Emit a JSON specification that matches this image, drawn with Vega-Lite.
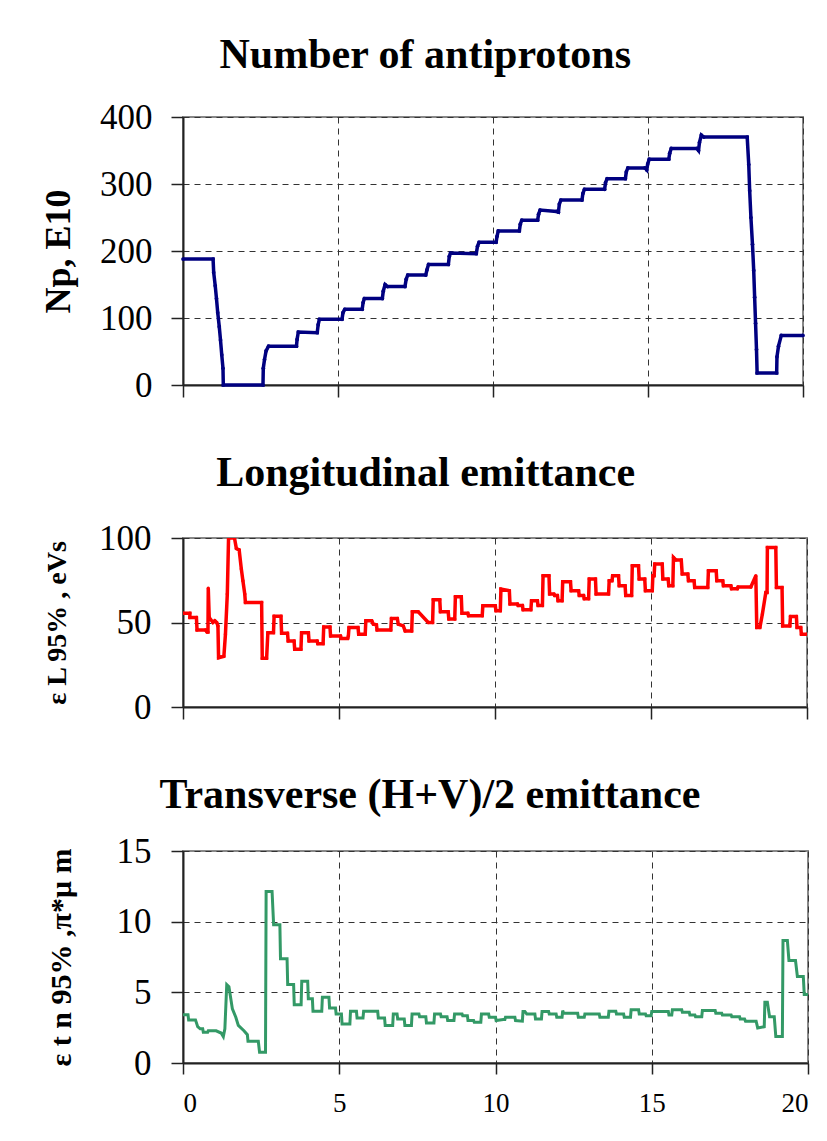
{
  "$schema": "https://vega.github.io/schema/vega-lite/v6.json",
  "padding": {"left": 39, "top": 33, "right": 5, "bottom": 5},
  "background": "white",
  "spacing": 47,
  "config": {
    "view": {"stroke": "#888888", "strokeWidth": 2},
    "axis": {
      "domainColor": "#222222", "domainWidth": 2,
      "tickColor": "#222222", "tickSize": 12, "tickWidth": 1.5,
      "gridColor": "#333333", "gridDash": [6, 5], "gridWidth": 1,
      "labelFont": "Liberation Serif", "labelFontSize": 35, "labelColor": "#000000",
      "titleFont": "Liberation Serif", "titleFontWeight": "bold", "titleColor": "#000000"
    },
    "title": {"font": "Liberation Serif", "fontWeight": "bold", "fontSize": 42, "color": "#000000", "frame": "bounds", "anchor": "middle", "baseline": "alphabetic"}
  },
  "datasets": {
    "np": [
      {"t":0,"v":188},{"t":0.97,"v":188},{"t":0.99,"v":168},{"t":1.04,"v":148},{"t":1.08,"v":129},{"t":1.12,"v":108},{"t":1.17,"v":87},{"t":1.21,"v":67},{"t":1.25,"v":45},{"t":1.29,"v":25},{"t":1.30,"v":0},{"t":2.58,"v":0},{"t":2.59,"v":25},{"t":2.63,"v":38},{"t":2.68,"v":51},{"t":2.76,"v":58},{"t":3.66,"v":58},{"t":3.68,"v":68},{"t":3.72,"v":79},{"t":4.33,"v":78},{"t":4.36,"v":90},{"t":4.40,"v":98},{"t":5.13,"v":98},{"t":5.16,"v":108},{"t":5.22,"v":113},{"t":5.78,"v":113},{"t":5.81,"v":123},{"t":5.85,"v":129},{"t":6.43,"v":129},{"t":6.46,"v":140},{"t":6.52,"v":150},{"t":6.6,"v":147},{"t":7.16,"v":147},{"t":7.2,"v":158},{"t":7.25,"v":164},{"t":7.83,"v":164},{"t":7.87,"v":172},{"t":7.92,"v":180},{"t":8.56,"v":180},{"t":8.59,"v":192},{"t":8.63,"v":197},{"t":9.46,"v":196},{"t":9.5,"v":207},{"t":9.55,"v":213},{"t":10.1,"v":213},{"t":10.13,"v":222},{"t":10.17,"v":230},{"t":10.85,"v":230},{"t":10.88,"v":240},{"t":10.93,"v":246},{"t":11.44,"v":246},{"t":11.47,"v":255},{"t":11.52,"v":261},{"t":12.05,"v":259},{"t":12.11,"v":258},{"t":12.14,"v":270},{"t":12.19,"v":276},{"t":12.87,"v":276},{"t":12.9,"v":286},{"t":12.95,"v":292},{"t":13.6,"v":292},{"t":13.63,"v":302},{"t":13.68,"v":308},{"t":14.27,"v":308},{"t":14.3,"v":318},{"t":14.35,"v":324},{"t":14.9,"v":324},{"t":14.96,"v":321},{"t":14.99,"v":330},{"t":15.04,"v":337},{"t":15.67,"v":337},{"t":15.7,"v":346},{"t":15.75,"v":353},{"t":16.58,"v":353},{"t":16.63,"v":350},{"t":16.66,"v":362},{"t":16.72,"v":373},{"t":16.8,"v":370},{"t":18.2,"v":370},{"t":18.25,"v":329},{"t":18.28,"v":290},{"t":18.32,"v":250},{"t":18.37,"v":210},{"t":18.41,"v":171},{"t":18.44,"v":131},{"t":18.47,"v":92},{"t":18.5,"v":53},{"t":18.52,"v":18},{"t":19.15,"v":18},{"t":19.16,"v":42},{"t":19.21,"v":58},{"t":19.3,"v":74},{"t":20,"v":74}
    ],
    "el": [
      {"t":0,"v":55.5},{"t":0.22,"v":55.5},{"t":0.22,"v":53},{"t":0.43,"v":53},{"t":0.45,"v":45.6},{"t":0.72,"v":45.6},{"t":0.77,"v":44.4},{"t":0.8,"v":44.4},{"t":0.81,"v":70.3},{"t":0.84,"v":53},{"t":0.96,"v":50},{"t":1.02,"v":51},{"t":1.08,"v":50},{"t":1.12,"v":48},{"t":1.14,"v":29.2},{"t":1.31,"v":30},{"t":1.36,"v":43},{"t":1.42,"v":66.8},{"t":1.46,"v":100},{"t":1.65,"v":100},{"t":1.71,"v":93.8},{"t":1.8,"v":93},{"t":1.87,"v":81.6},{"t":1.92,"v":74.7},{"t":1.98,"v":66.8},{"t":2.0,"v":61.8},{"t":2.52,"v":61.8},{"t":2.54,"v":28.9},{"t":2.68,"v":28.9},{"t":2.72,"v":44},{"t":2.9,"v":44},{"t":2.92,"v":53.7},{"t":3.14,"v":53.7},{"t":3.16,"v":43.7},{"t":3.35,"v":43.7},{"t":3.37,"v":39.1},{"t":3.56,"v":39.1},{"t":3.58,"v":34.2},{"t":3.78,"v":34.2},{"t":3.8,"v":44},{"t":4.02,"v":44},{"t":4.04,"v":39},{"t":4.3,"v":39},{"t":4.32,"v":37.5},{"t":4.49,"v":37.5},{"t":4.51,"v":47.4},{"t":4.71,"v":47.4},{"t":4.73,"v":42},{"t":5.05,"v":42},{"t":5.07,"v":40.6},{"t":5.28,"v":40.6},{"t":5.3,"v":42},{"t":5.32,"v":47},{"t":5.61,"v":47},{"t":5.63,"v":43},{"t":5.84,"v":43},{"t":5.86,"v":51},{"t":6.05,"v":51},{"t":6.1,"v":49},{"t":6.2,"v":48.7},{"t":6.22,"v":45.6},{"t":6.66,"v":45.6},{"t":6.68,"v":52.4},{"t":6.87,"v":52.4},{"t":6.9,"v":49},{"t":7.06,"v":48},{"t":7.12,"v":45},{"t":7.33,"v":45},{"t":7.35,"v":56.3},{"t":7.54,"v":56.3},{"t":7.86,"v":50},{"t":8.0,"v":50},{"t":8.02,"v":63.4},{"t":8.23,"v":63.4},{"t":8.25,"v":56.3},{"t":8.5,"v":56.3},{"t":8.52,"v":52},{"t":8.71,"v":52},{"t":8.73,"v":65.2},{"t":8.92,"v":65.2},{"t":8.94,"v":55.5},{"t":9.13,"v":55.5},{"t":9.15,"v":54},{"t":9.59,"v":54},{"t":9.61,"v":59.9},{"t":10.01,"v":59.9},{"t":10.03,"v":57},{"t":10.17,"v":57},{"t":10.19,"v":69.8},{"t":10.46,"v":68.8},{"t":10.48,"v":60.9},{"t":10.72,"v":60.9},{"t":10.74,"v":60},{"t":10.88,"v":60},{"t":10.9,"v":57.5},{"t":11.15,"v":57.5},{"t":11.17,"v":62.9},{"t":11.36,"v":62.9},{"t":11.38,"v":60},{"t":11.52,"v":60},{"t":11.54,"v":77.7},{"t":11.73,"v":77.7},{"t":11.75,"v":66.8},{"t":11.89,"v":66.8},{"t":11.91,"v":66},{"t":12.0,"v":66},{"t":12.02,"v":62.9},{"t":12.15,"v":62.9},{"t":12.17,"v":74.1},{"t":12.42,"v":74.1},{"t":12.44,"v":68.8},{"t":12.68,"v":68.8},{"t":12.7,"v":66},{"t":12.84,"v":66},{"t":12.86,"v":64},{"t":13.0,"v":64},{"t":13.02,"v":75.7},{"t":13.22,"v":75.7},{"t":13.24,"v":66.8},{"t":13.64,"v":66.8},{"t":13.66,"v":74.7},{"t":13.75,"v":74.7},{"t":13.77,"v":77.7},{"t":13.96,"v":77.7},{"t":13.98,"v":71.7},{"t":14.17,"v":71.7},{"t":14.19,"v":66},{"t":14.38,"v":66},{"t":14.4,"v":83.6},{"t":14.6,"v":83.6},{"t":14.62,"v":75.7},{"t":14.8,"v":75.7},{"t":14.82,"v":68.8},{"t":15.04,"v":68.8},{"t":15.06,"v":77.7},{"t":15.1,"v":77.7},{"t":15.12,"v":84.6},{"t":15.36,"v":84.6},{"t":15.38,"v":75.7},{"t":15.55,"v":75.7},{"t":15.57,"v":71.7},{"t":15.7,"v":71.7},{"t":15.72,"v":88.5},{"t":15.8,"v":87},{"t":15.97,"v":87},{"t":16.0,"v":78.7},{"t":16.18,"v":78.7},{"t":16.2,"v":74.7},{"t":16.38,"v":74.7},{"t":16.4,"v":70.7},{"t":16.82,"v":70.7},{"t":16.84,"v":80.6},{"t":17.09,"v":80.6},{"t":17.11,"v":74.7},{"t":17.3,"v":74.7},{"t":17.32,"v":71.7},{"t":17.56,"v":71.7},{"t":17.58,"v":70},{"t":17.77,"v":70},{"t":17.79,"v":71},{"t":18.2,"v":71},{"t":18.36,"v":77.7},{"t":18.39,"v":47},{"t":18.49,"v":47},{"t":18.57,"v":55},{"t":18.68,"v":67.8},{"t":18.72,"v":67.8},{"t":18.73,"v":94.4},{"t":19.0,"v":94.4},{"t":19.02,"v":70.7},{"t":19.2,"v":70.7},{"t":19.22,"v":48},{"t":19.45,"v":48},{"t":19.47,"v":53.5},{"t":19.66,"v":53.5},{"t":19.68,"v":47},{"t":19.8,"v":47},{"t":19.82,"v":43.1},{"t":20,"v":43.1}
    ],
    "et": [
      {"t":0,"v":3.42},{"t":0.16,"v":3.42},{"t":0.18,"v":3.05},{"t":0.4,"v":3.05},{"t":0.47,"v":2.57},{"t":0.55,"v":2.42},{"t":0.63,"v":2.42},{"t":0.65,"v":2.17},{"t":0.79,"v":2.17},{"t":0.81,"v":2.28},{"t":1.06,"v":2.28},{"t":1.22,"v":2.12},{"t":1.29,"v":1.86},{"t":1.34,"v":2.42},{"t":1.4,"v":5.55},{"t":1.47,"v":5.4},{"t":1.58,"v":3.83},{"t":1.69,"v":3.24},{"t":1.77,"v":2.66},{"t":1.95,"v":2.28},{"t":2.06,"v":2.0},{"t":2.08,"v":1.54},{"t":2.41,"v":1.54},{"t":2.45,"v":0.76},{"t":2.64,"v":0.76},{"t":2.66,"v":12.14},{"t":2.85,"v":12.14},{"t":2.9,"v":9.78},{"t":3.1,"v":9.78},{"t":3.12,"v":7.37},{"t":3.33,"v":7.37},{"t":3.35,"v":5.55},{"t":3.54,"v":5.55},{"t":3.56,"v":4.13},{"t":3.78,"v":4.13},{"t":3.8,"v":5.79},{"t":3.99,"v":5.79},{"t":4.01,"v":4.54},{"t":4.14,"v":4.54},{"t":4.16,"v":3.66},{"t":4.44,"v":3.66},{"t":4.46,"v":4.65},{"t":4.67,"v":4.65},{"t":4.69,"v":3.9},{"t":4.88,"v":3.9},{"t":4.9,"v":3.47},{"t":5.07,"v":3.47},{"t":5.09,"v":2.76},{"t":5.34,"v":2.76},{"t":5.36,"v":3.66},{"t":5.55,"v":3.66},{"t":5.57,"v":3.19},{"t":5.76,"v":3.19},{"t":5.78,"v":3.66},{"t":6.23,"v":3.66},{"t":6.25,"v":3.19},{"t":6.45,"v":3.19},{"t":6.47,"v":2.66},{"t":6.71,"v":2.66},{"t":6.73,"v":3.47},{"t":6.85,"v":3.47},{"t":6.87,"v":3.12},{"t":7.08,"v":3.12},{"t":7.1,"v":2.66},{"t":7.31,"v":2.66},{"t":7.33,"v":3.47},{"t":7.55,"v":3.47},{"t":7.57,"v":3.28},{"t":7.77,"v":3.28},{"t":7.79,"v":2.83},{"t":8.03,"v":2.83},{"t":8.05,"v":3.47},{"t":8.24,"v":3.47},{"t":8.26,"v":3.28},{"t":8.45,"v":3.28},{"t":8.47,"v":3.0},{"t":8.67,"v":3.0},{"t":8.69,"v":3.47},{"t":8.93,"v":3.47},{"t":8.95,"v":3.35},{"t":9.1,"v":3.35},{"t":9.12,"v":3.0},{"t":9.3,"v":3.0},{"t":9.32,"v":2.88},{"t":9.53,"v":2.88},{"t":9.55,"v":3.47},{"t":9.78,"v":3.47},{"t":9.8,"v":3.24},{"t":10.0,"v":3.24},{"t":10.02,"v":3.0},{"t":10.25,"v":3.07},{"t":10.3,"v":3.07},{"t":10.32,"v":3.24},{"t":10.62,"v":3.24},{"t":10.64,"v":3.0},{"t":10.86,"v":2.96},{"t":10.88,"v":3.64},{"t":10.94,"v":3.64},{"t":11.0,"v":3.47},{"t":11.26,"v":3.47},{"t":11.28,"v":3.12},{"t":11.47,"v":3.12},{"t":11.49,"v":3.64},{"t":11.7,"v":3.64},{"t":11.72,"v":3.47},{"t":11.94,"v":3.47},{"t":11.96,"v":3.24},{"t":12.13,"v":3.24},{"t":12.15,"v":3.71},{"t":12.18,"v":3.52},{"t":12.63,"v":3.52},{"t":12.65,"v":3.24},{"t":12.84,"v":3.24},{"t":12.86,"v":3.47},{"t":13.32,"v":3.47},{"t":13.34,"v":3.24},{"t":13.61,"v":3.24},{"t":13.63,"v":3.66},{"t":13.85,"v":3.66},{"t":13.87,"v":3.47},{"t":14.1,"v":3.47},{"t":14.12,"v":3.24},{"t":14.32,"v":3.24},{"t":14.34,"v":3.76},{"t":14.58,"v":3.76},{"t":14.6,"v":3.47},{"t":14.8,"v":3.47},{"t":14.82,"v":3.35},{"t":14.98,"v":3.35},{"t":15.0,"v":3.64},{"t":15.53,"v":3.64},{"t":15.55,"v":3.4},{"t":15.64,"v":3.4},{"t":15.66,"v":3.76},{"t":15.96,"v":3.76},{"t":15.98,"v":3.59},{"t":16.2,"v":3.59},{"t":16.22,"v":3.4},{"t":16.38,"v":3.4},{"t":16.4,"v":3.28},{"t":16.6,"v":3.28},{"t":16.62,"v":3.71},{"t":17.03,"v":3.71},{"t":17.05,"v":3.52},{"t":17.24,"v":3.52},{"t":17.26,"v":3.4},{"t":17.54,"v":3.4},{"t":17.56,"v":3.28},{"t":17.81,"v":3.28},{"t":17.83,"v":3.12},{"t":17.97,"v":3.12},{"t":18.0,"v":2.96},{"t":18.34,"v":2.96},{"t":18.39,"v":2.48},{"t":18.6,"v":2.57},{"t":18.62,"v":4.3},{"t":18.7,"v":4.3},{"t":18.77,"v":3.28},{"t":18.92,"v":3.28},{"t":18.97,"v":1.87},{"t":19.18,"v":1.87},{"t":19.2,"v":8.67},{"t":19.34,"v":8.67},{"t":19.39,"v":7.25},{"t":19.6,"v":7.25},{"t":19.66,"v":6.12},{"t":19.85,"v":6.12},{"t":19.88,"v":4.84},{"t":20,"v":4.84}
    ]
  },
  "vconcat": [
    {
      "title": {"text": "Number of antiprotons", "offset": 23},
      "width": 620, "height": 268,
      "data": {"name": "np"},
      "mark": {"type": "line", "color": "#000080", "strokeWidth": 3.5, "point": {"filled": true, "size": 14, "color": "#000080"}},
      "encoding": {
        "x": {"field": "t", "type": "quantitative", "scale": {"domain": [0, 20], "nice": false},
              "axis": {"values": [0, 5, 10, 15, 20], "labels": false, "title": null, "grid": true}},
        "y": {"field": "v", "type": "quantitative", "scale": {"domain": [0, 400], "nice": false},
              "axis": {"values": [0, 100, 200, 300, 400], "title": "Np, E10", "titleFontSize": 36, "labelPadding": 19, "titlePadding": 22, "grid": true}}
      }
    },
    {
      "title": {"text": "Longitudinal emittance", "offset": 26},
      "width": 624, "height": 169,
      "data": {"name": "el"},
      "mark": {"type": "line", "color": "#ff0000", "strokeWidth": 3.5, "clip": true, "point": {"filled": true, "size": 12, "color": "#ff0000"}},
      "encoding": {
        "x": {"field": "t", "type": "quantitative", "scale": {"domain": [0, 20], "nice": false},
              "axis": {"values": [0, 5, 10, 15, 20], "labels": false, "title": null, "grid": true}},
        "y": {"field": "v", "type": "quantitative", "scale": {"domain": [0, 100], "nice": false},
              "axis": {"values": [0, 50, 100], "title": "ε L 95% , eVs", "titleFontSize": 28, "labelPadding": 20, "titlePadding": 27, "grid": true}}
      }
    },
    {
      "title": {"text": "Transverse (H+V)/2 emittance", "offset": 17},
      "width": 625, "height": 212,
      "data": {"name": "et"},
      "mark": {"type": "line", "color": "#339966", "strokeWidth": 3},
      "encoding": {
        "x": {"field": "t", "type": "quantitative", "scale": {"domain": [0, 20], "nice": false},
              "axis": {"values": [0, 5, 10, 15, 20], "title": null, "grid": true, "labelFontSize": 27, "labelPadding": 16, "tickSize": 11}},
        "y": {"field": "v", "type": "quantitative", "scale": {"domain": [0, 15], "nice": false},
              "axis": {"values": [0, 5, 10, 15], "title": "ε t n 95% ,π*μ m", "titleFontSize": 30, "labelPadding": 20, "titlePadding": 40, "grid": true}}
      }
    }
  ]
}
